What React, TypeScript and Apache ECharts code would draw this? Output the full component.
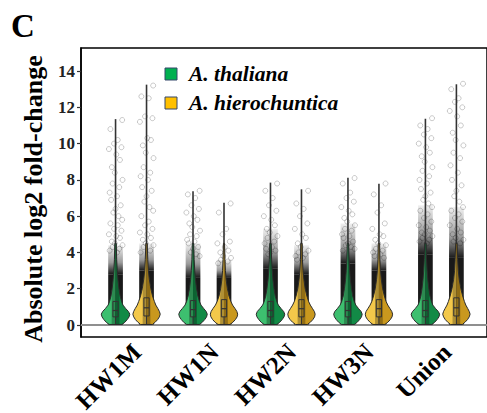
import React, { useEffect, useRef } from "react";
import * as echarts from "echarts";

const categories = ["HW1M", "HW1N", "HW2N", "HW3N", "Union"];
const speciesNames = ["A. thaliana", "A. hierochuntica"];
const yTicks = [0, 2, 4, 6, 8, 10, 12, 14];

// violin density profile: value levels and relative half-widths
const densityLevels = [0.03, 0.15, 0.3, 0.45, 0.6, 0.75, 0.9, 1.1, 1.3, 1.6, 2.0, 2.5, 3.0, 3.6, 4.5];
const thalianaDensity = [
  [0.45, 0.65, 0.82, 0.95, 1.0, 0.9, 0.72, 0.52, 0.42, 0.32, 0.24, 0.17, 0.12, 0.08, 0.05],
  [0.45, 0.65, 0.82, 0.95, 1.0, 0.92, 0.76, 0.56, 0.45, 0.34, 0.25, 0.17, 0.12, 0.08, 0.05],
  [0.45, 0.65, 0.82, 0.95, 1.0, 0.92, 0.75, 0.55, 0.44, 0.33, 0.25, 0.17, 0.12, 0.08, 0.05],
  [0.45, 0.65, 0.82, 0.95, 1.0, 0.92, 0.75, 0.55, 0.44, 0.33, 0.25, 0.17, 0.12, 0.08, 0.05],
  [0.45, 0.65, 0.82, 0.95, 1.0, 0.9, 0.72, 0.52, 0.42, 0.32, 0.24, 0.17, 0.12, 0.08, 0.05],
];
const hierochunticaDensity = [
  [0.42, 0.6, 0.78, 0.9, 0.96, 0.9, 0.8, 0.65, 0.55, 0.42, 0.3, 0.2, 0.13, 0.09, 0.05],
  [0.42, 0.62, 0.8, 0.92, 0.96, 0.9, 0.78, 0.6, 0.48, 0.35, 0.24, 0.15, 0.1, 0.07, 0.04],
  [0.42, 0.62, 0.8, 0.92, 0.96, 0.9, 0.78, 0.62, 0.5, 0.38, 0.26, 0.17, 0.11, 0.07, 0.05],
  [0.42, 0.62, 0.8, 0.92, 0.96, 0.9, 0.78, 0.62, 0.5, 0.38, 0.26, 0.17, 0.11, 0.07, 0.05],
  [0.42, 0.6, 0.78, 0.9, 0.96, 0.9, 0.8, 0.66, 0.56, 0.44, 0.31, 0.2, 0.13, 0.09, 0.05],
];

// box stats [q1, median, q3]
const thalianaBox = [[0.45, 0.8, 1.3], [0.45, 0.85, 1.35], [0.45, 0.8, 1.3], [0.45, 0.8, 1.3], [0.45, 0.8, 1.35]];
const hierochunticaBox = [[0.5, 0.95, 1.5], [0.45, 0.9, 1.4], [0.45, 0.9, 1.4], [0.45, 0.9, 1.4], [0.5, 0.95, 1.5]];

// maxima
const thalianaMax = [11.35, 7.38, 7.85, 8.12, 11.37];
const hierochunticaMax = [13.25, 6.74, 7.48, 7.79, 13.27];

// point cloud: dense up to, fading out by
const thalianaDenseTop = [2.8, 2.6, 3.1, 3.4, 3.9];
const thalianaFadeTop = [4.4, 4.5, 5.3, 5.6, 6.6];
const hierochunticaDenseTop = [3.0, 2.6, 2.8, 3.0, 3.7];
const hierochunticaFadeTop = [4.5, 3.6, 4.4, 4.5, 6.5];

// sparse points
const thalianaPoints = [
  [11.3, 10.8, 10.2, 10.0, 9.8, 9.7, 9.4, 9.1, 8.7, 8.4, 8.0, 7.8, 7.6, 7.3, 7.1, 6.9, 6.6, 6.4, 6.2, 6.0, 5.8, 5.6, 5.5, 5.3, 5.2, 5.0, 4.9, 4.8, 4.6, 4.5, 4.4, 4.3, 4.2, 4.1, 4.0],
  [7.4, 7.2, 7.0, 6.6, 6.4, 6.2, 6.0, 5.8, 5.6, 5.4, 5.2, 5.0, 4.9, 4.7, 4.6, 4.5, 4.3, 4.2, 4.0, 3.9, 3.8],
  [7.8, 7.4, 7.0, 6.6, 6.3, 6.0, 5.8, 5.5, 5.3, 5.1, 4.9, 4.8, 4.6, 4.5, 4.3, 4.2, 4.1, 4.0, 3.9],
  [8.1, 7.8, 7.3, 7.0, 6.8, 6.5, 6.3, 6.1, 5.9, 5.7, 5.5, 5.3, 5.2, 5.0, 4.9, 4.8, 4.6, 4.5, 4.4, 4.3, 4.2, 4.1],
  [11.4, 11.0, 10.8, 10.5, 10.3, 10.0, 9.8, 9.5, 9.3, 9.0, 8.7, 8.5, 8.2, 8.0, 7.8, 7.5, 7.3, 7.1, 6.9, 6.7, 6.5, 6.3, 6.1, 5.9, 5.7, 5.5, 5.4, 5.2, 5.1, 5.0, 4.9, 4.8, 4.7, 4.6, 4.5],
];
const hierochunticaPoints = [
  [13.2, 12.6, 12.5, 11.5, 11.4, 11.2, 10.3, 10.2, 9.9, 9.5, 9.2, 8.7, 8.4, 8.2, 8.0, 7.6, 7.4, 7.1, 6.8, 6.5, 6.3, 6.0, 5.7, 5.5, 5.3, 5.1, 5.0, 4.8, 4.7, 4.5, 4.4, 4.3, 4.1, 4.0],
  [6.7, 6.2, 5.3, 5.0, 4.6, 4.5, 4.3, 4.1, 4.0, 3.8, 3.7, 3.6, 3.5, 3.4],
  [7.4, 6.7, 6.4, 6.0, 5.6, 5.3, 5.0, 4.8, 4.5, 4.3, 4.1, 4.0, 3.9, 3.8, 3.7, 3.6],
  [7.8, 7.2, 6.6, 6.2, 5.6, 5.3, 5.0, 4.9, 4.7, 4.5, 4.4, 4.2, 4.1, 4.0, 3.9, 3.8, 3.7],
  [13.3, 13.0, 12.5, 12.3, 12.0, 11.8, 11.5, 11.0, 10.6, 10.2, 9.9, 9.5, 9.2, 8.8, 8.4, 8.0, 7.7, 7.4, 7.1, 6.8, 6.5, 6.3, 6.1, 5.9, 5.7, 5.5, 5.3, 5.1, 5.0, 4.8, 4.7, 4.6, 4.5],
];
const jitterPattern = [0.9, -0.7, 0.3, -0.2, 0.8, -0.9, 0.1, 0.6, -0.5, -0.1, 0.95, -0.4, 0.5, -0.8, 0.2, -0.6, 0.7, 0.0, -0.3, 0.4];

const COLORS = [
  { light: "#3dbf6f", dark: "#128a46", legend: "#00b050" },
  { light: "#f3c84a", dark: "#c9981e", legend: "#ffc000" },
];
const SERIF = '"Liberation Serif", "Times New Roman", serif';

const X_MIN = 0.354;
const X_MAX = 5.595;
const DODGE = 0.2;
const VIOLIN_HALF = 0.184;
const CLOUD_HALF = 0.095;
const BAND_HALF = 0.05;
const BOX_HALF = 0.034;

const violinItems: number[][] = [];
categories.forEach((_, i) => {
  violinItems.push([i + 1 - DODGE, 0, i, 0]);
  violinItems.push([i + 1 + DODGE, 0, i, 1]);
});

function renderViolin(params: any, api: any) {
  const xPos = api.value(0);
  const ci = api.value(2);
  const sp = api.value(3);
  const dens = sp === 0 ? thalianaDensity[ci] : hierochunticaDensity[ci];
  const box = sp === 0 ? thalianaBox[ci] : hierochunticaBox[ci];
  const vmax = sp === 0 ? thalianaMax[ci] : hierochunticaMax[ci];
  const denseTop = sp === 0 ? thalianaDenseTop[ci] : hierochunticaDenseTop[ci];
  const fadeTop = sp === 0 ? thalianaFadeTop[ci] : hierochunticaFadeTop[ci];
  const pts = sp === 0 ? thalianaPoints[ci] : hierochunticaPoints[ci];
  const col = COLORS[sp];

  const unit = api.size([1, 0])[0];
  const c0 = api.coord([xPos, 0]);
  const cx = c0[0];
  const Y = (v: number) => api.coord([xPos, v])[1];
  const vHalf = VIOLIN_HALF * unit;
  const cHalf = CLOUD_HALF * unit;
  const bHalf = BAND_HALF * unit;
  const boxHalf = BOX_HALF * unit;

  const children: any[] = [];
  // dense cloud
  children.push({
    type: "rect",
    shape: { x: cx - cHalf, y: Y(denseTop), width: 2 * cHalf, height: Y(0.03) - Y(denseTop) },
    style: { fill: "rgba(0,0,0,0.9)" },
  });
  children.push({
    type: "rect",
    shape: { x: cx - cHalf, y: Y(fadeTop), width: 2 * cHalf, height: Y(denseTop) - Y(fadeTop) },
    style: {
      fill: new echarts.graphic.LinearGradient(0, 0, 0, 1, [
        { offset: 0, color: "rgba(0,0,0,0.06)" },
        { offset: 0.6, color: "rgba(0,0,0,0.4)" },
        { offset: 1, color: "rgba(0,0,0,0.9)" },
      ]),
    },
  });
  pts.forEach((v, j) => {
    children.push({
      type: "circle",
      shape: { cx: cx + jitterPattern[j % jitterPattern.length] * cHalf, cy: Y(v), r: 2.5 },
      style: { fill: "none", stroke: "rgba(0,0,0,0.3)", lineWidth: 0.7 },
    });
  });
  // tail line
  children.push({
    type: "line",
    shape: { x1: cx, y1: Y(box[2]), x2: cx, y2: Y(vmax) },
    style: { stroke: "#333", lineWidth: 1.6 },
  });

  const n = densityLevels.length;
  const ys = densityLevels.map((v) => Y(v));
  const hw = dens.map((d) => d * vHalf);
  const left: number[][] = [[cx, ys[0]]];
  const right: number[][] = [[cx, ys[0]]];
  for (let k = 0; k < n; k++) {
    left.push([cx - hw[k], ys[k]]);
    right.push([cx + hw[k], ys[k]]);
  }
  left.push([cx, ys[n - 1]]);
  right.push([cx, ys[n - 1]]);
  children.push({ type: "polygon", shape: { points: left }, style: { fill: col.light } });
  children.push({ type: "polygon", shape: { points: right }, style: { fill: col.dark } });
  const band: number[][] = [];
  for (let k = 0; k < n; k++) band.push([cx - Math.min(bHalf, hw[k]), ys[k]]);
  for (let k = n - 1; k >= 0; k--) band.push([cx + Math.min(bHalf, hw[k]), ys[k]]);
  children.push({ type: "polygon", shape: { points: band }, style: { fill: "rgba(0,0,0,0.28)" } });
  const outline: number[][] = [];
  for (let k = 0; k < n; k++) outline.push([cx - hw[k], ys[k]]);
  for (let k = n - 1; k >= 0; k--) outline.push([cx + hw[k], ys[k]]);
  children.push({
    type: "polygon",
    shape: { points: outline },
    style: { fill: "none", stroke: "#2b2b2b", lineWidth: 1 },
  });
  // box
  children.push({
    type: "line",
    shape: { x1: cx, y1: Y(box[0]), x2: cx, y2: Y(0.05) },
    style: { stroke: "#333", lineWidth: 1 },
  });
  children.push({
    type: "rect",
    shape: { x: cx - boxHalf, y: Y(box[2]), width: 2 * boxHalf, height: Y(box[0]) - Y(box[2]) },
    style: { fill: "none", stroke: "#333", lineWidth: 1 },
  });
  children.push({
    type: "line",
    shape: { x1: cx - boxHalf, y1: Y(box[1]), x2: cx + boxHalf, y2: Y(box[1]) },
    style: { stroke: "#333", lineWidth: 1.2 },
  });
  return { type: "group", children };
}

function renderLabel(params: any, api: any) {
  const i = api.value(0);
  const p = api.coord([i + 1, 0]);
  const bottom = params.coordSys.y + params.coordSys.height;
  return {
    type: "text",
    x: p[0] - 3,
    y: bottom + 2,
    rotation: Math.PI / 4,
    style: {
      text: categories[i],
      align: "right",
      verticalAlign: "top",
      font: `bold 25px ${SERIF}`,
      fill: "#000",
    },
  };
}

export default function App() {
  const ref = useRef<HTMLDivElement>(null);
  useEffect(() => {
    if (!ref.current) return;
    const chart = echarts.init(ref.current, null, { renderer: "svg" });
    chart.setOption({
      animation: false,
      backgroundColor: "#fff",
      grid: {
        left: 81,
        right: -8,
        top: 48,
        bottom: 76,
        show: true,
        borderColor: "#000",
        borderWidth: 1.5,
        backgroundColor: "transparent",
      },
      xAxis: { type: "value", min: X_MIN, max: X_MAX, show: false },
      yAxis: {
        type: "value",
        min: -0.66,
        max: 15.27,
        splitLine: { show: false },
        axisLine: { show: true, lineStyle: { color: "#000", width: 1.5 } },
        axisTick: { show: true, length: 4, customValues: yTicks, lineStyle: { color: "#333", width: 1.2 } },
        axisLabel: {
          customValues: yTicks,
          margin: 6,
          color: "#222",
          fontFamily: SERIF,
          fontWeight: "bold",
          fontSize: 17,
        },
      },
      graphic: [
        {
          type: "text",
          left: 11,
          top: 9,
          style: { text: "C", font: `bold 33px ${SERIF}`, fill: "#000" },
        },
        {
          type: "text",
          x: 33,
          y: 199,
          rotation: Math.PI / 2,
          style: {
            text: "Absolute log2 fold-change",
            align: "center",
            verticalAlign: "middle",
            font: `bold 26px ${SERIF}`,
            fill: "#000",
          },
        },
        {
          type: "rect",
          shape: { x: 165, y: 68, width: 12, height: 12 },
          style: { fill: COLORS[0].legend, stroke: "#34466a", lineWidth: 1 },
        },
        {
          type: "rect",
          shape: { x: 165, y: 97, width: 12, height: 12 },
          style: { fill: COLORS[1].legend, stroke: "#34466a", lineWidth: 1 },
        },
        {
          type: "text",
          x: 189,
          y: 74,
          style: {
            text: speciesNames[0],
            verticalAlign: "middle",
            font: `italic bold 21.5px ${SERIF}`,
            fill: "#000",
          },
        },
        {
          type: "text",
          x: 189,
          y: 103,
          style: {
            text: speciesNames[1],
            verticalAlign: "middle",
            font: `italic bold 21.5px ${SERIF}`,
            fill: "#000",
          },
        },
      ],
      series: [
        {
          type: "line",
          data: [[X_MIN, 0], [X_MAX, 0]],
          showSymbol: false,
          silent: true,
          lineStyle: { color: "#8f8f8f", width: 2 },
          z: 1,
        },
        {
          type: "custom",
          renderItem: renderViolin,
          data: violinItems,
          encode: { x: 0, y: 1 },
          clip: false,
          silent: true,
          z: 2,
        },
        {
          type: "custom",
          renderItem: renderLabel,
          data: categories.map((_, i) => [i]),
          encode: { x: 0 },
          clip: false,
          silent: true,
          z: 3,
        },
      ],
    });
    return () => chart.dispose();
  }, []);
  return <div ref={ref} style={{ position: "fixed", left: 0, top: 0, width: 487, height: 413 }} />;
}
